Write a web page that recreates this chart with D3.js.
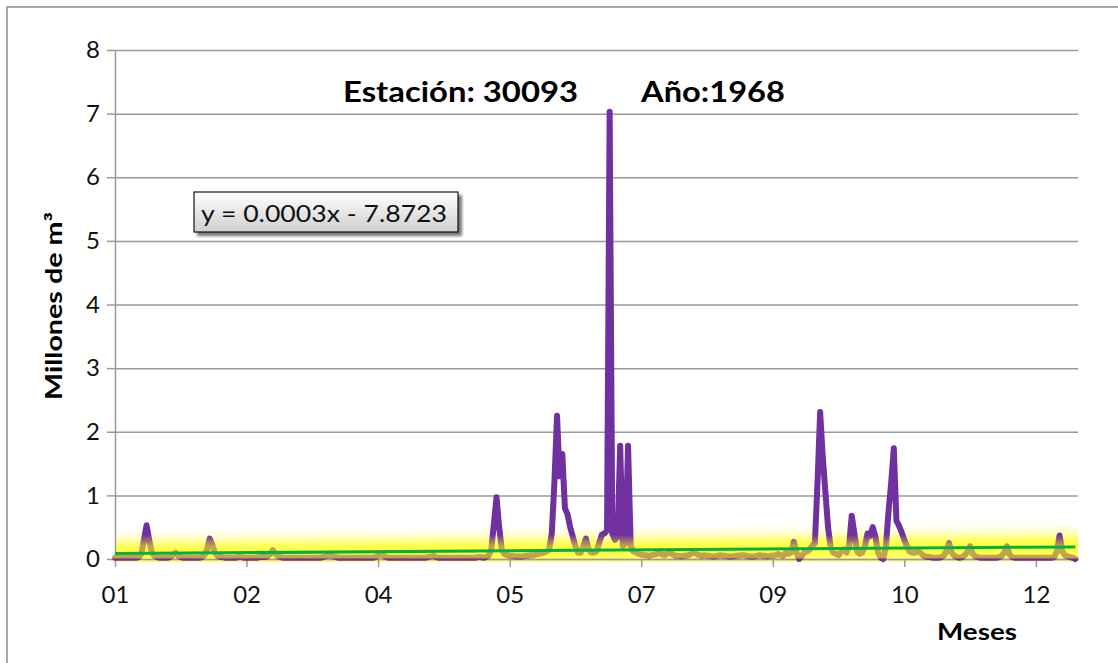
<!DOCTYPE html>
<html><head><meta charset="utf-8">
<script src="https://cdn.jsdelivr.net/npm/d3@7"></script>
<style>body{margin:0;background:#fff}svg{display:block}</style>
</head><body><svg id="c" width="1118" height="663"></svg>
<script>
const titleStation = "Estación: 30093";
const titleYear = "Año:1968";
const yTitle = "Millones de m³";
const xTitle = "Meses";
const equation = "y = 0.0003x - 7.8723";
const xTickDays = [0,50,100,150,200,250,300,350];
const xTickLabels = ["01","02","04","05","07","09","10","12"];
const yTicks = [0,1,2,3,4,5,6,7,8];
const trendDays = [0,365];
const trendValues = [0.085,0.19];
// daily volume (millions of m3), 1968-01-01 .. 1968-12-31
const flow = [
0.02,0.02,0.02,0.02,0.02,0.02,0.02,0.02,0.02,0.03,
0.08,0.3,0.53,0.3,0.1,0.05,0.03,0.02,0.02,0.02,
0.02,0.03,0.06,0.1,0.05,0.03,0.02,0.02,0.02,0.02,
0.02,0.02,0.02,0.03,0.06,0.15,0.32,0.22,0.1,0.05,
0.03,0.03,0.02,0.02,0.02,0.02,0.02,0.03,0.03,0.02,
0.02,0.02,0.02,0.02,0.02,0.03,0.03,0.03,0.04,0.08,
0.14,0.08,0.04,0.03,0.02,0.02,0.02,0.02,0.02,0.02,
0.02,0.02,0.02,0.02,0.02,0.02,0.02,0.02,0.02,0.03,
0.04,0.05,0.06,0.04,0.03,0.02,0.02,0.02,0.02,0.02,
0.02,0.02,0.02,0.02,0.02,0.02,0.02,0.02,0.02,0.03,
0.05,0.07,0.05,0.03,0.02,0.02,0.02,0.02,0.02,0.02,
0.02,0.02,0.02,0.02,0.02,0.02,0.02,0.02,0.02,0.03,
0.04,0.05,0.03,0.02,0.02,0.02,0.02,0.02,0.02,0.02,
0.02,0.02,0.02,0.02,0.02,0.02,0.02,0.02,0.03,0.03,
0.02,0.03,0.05,0.15,0.55,0.97,0.5,0.15,0.08,0.06,
0.05,0.05,0.04,0.04,0.04,0.04,0.05,0.05,0.06,0.06,
0.07,0.08,0.09,0.1,0.12,0.14,0.4,1.2,2.25,1.3,
1.65,0.8,0.7,0.5,0.35,0.2,0.1,0.1,0.2,0.32,
0.15,0.1,0.1,0.12,0.25,0.38,0.4,0.45,7.03,0.4,
0.3,0.35,1.78,0.2,0.25,1.78,0.2,0.12,0.1,0.08,
0.07,0.06,0.06,0.05,0.06,0.07,0.08,0.1,0.07,0.06,
0.09,0.1,0.07,0.05,0.05,0.04,0.05,0.05,0.06,0.08,
0.11,0.08,0.06,0.05,0.06,0.05,0.05,0.04,0.04,0.05,
0.06,0.05,0.05,0.04,0.04,0.04,0.05,0.05,0.06,0.06,
0.05,0.04,0.04,0.04,0.05,0.06,0.05,0.05,0.04,0.05,
0.05,0.06,0.08,0.06,0.05,0.1,0.08,0.1,0.27,0.1,
0.0,0.05,0.1,0.12,0.15,0.2,0.25,1.2,2.31,1.6,
1.05,0.5,0.18,0.1,0.08,0.06,0.12,0.15,0.1,0.2,
0.68,0.4,0.12,0.08,0.1,0.2,0.4,0.36,0.5,0.35,
0.1,0.02,0.0,0.2,0.75,1.2,1.74,0.6,0.52,0.42,
0.3,0.2,0.12,0.1,0.1,0.12,0.1,0.06,0.04,0.03,
0.03,0.02,0.02,0.02,0.03,0.05,0.12,0.25,0.1,0.05,
0.03,0.02,0.03,0.06,0.12,0.2,0.08,0.04,0.03,0.02,
0.02,0.02,0.02,0.02,0.02,0.02,0.03,0.05,0.1,0.2,
0.07,0.03,0.02,0.02,0.02,0.02,0.02,0.02,0.02,0.02,
0.02,0.02,0.02,0.02,0.02,0.02,0.02,0.03,0.12,0.37,
0.12,0.06,0.04,0.03,0.02,0.0
];

const svg = d3.select("#c");
const L = 115, R = 1078, T = 50, B = 559;
const x = d3.scaleLinear().domain([0,366]).range([L,R]);
const y = d3.scaleLinear().domain([0,8]).range([B,T]);
const FONT = "Lato, 'Open Sans', sans-serif";
const PURPLE = "#7030A0", TAN = "#C4A446", GRID = "#9a9a9a";

const defs = svg.append("defs");
defs.append("filter").attr("id","blur").attr("filterUnits","userSpaceOnUse")
  .attr("x",0).attr("y",0).attr("width",1118).attr("height",663)
  .append("feGaussianBlur").attr("stdDeviation",7);
defs.append("clipPath").attr("id","plotclip").append("rect")
  .attr("x",L).attr("y",T).attr("width",R-L).attr("height",B+3-T);
const g = defs.append("linearGradient").attr("id","sgrad").attr("gradientUnits","userSpaceOnUse")
  .attr("x1",0).attr("x2",0).attr("y1",y(-0.05)).attr("y2",y(0.45));
const off = v => (v+0.05)/0.5;
[[-0.05,PURPLE],[-0.005,PURPLE],[0.025,TAN],[0.2,TAN],[0.38,PURPLE],[0.45,PURPLE]]
  .forEach(([v,c]) => g.append("stop").attr("offset",off(v)).attr("stop-color",c));
const bg = defs.append("linearGradient").attr("id","boxgrad").attr("x1",0).attr("x2",0).attr("y1",0).attr("y2",1);
bg.append("stop").attr("offset",0).attr("stop-color","#ffffff");
bg.append("stop").attr("offset",1).attr("stop-color","#cfcfcf");
defs.append("filter").attr("id","shadow").append("feGaussianBlur").attr("stdDeviation",1.5);

// frame
svg.append("rect").attr("x",7).attr("y",7).attr("width",1125).attr("height",680)
  .attr("fill","#fff").attr("stroke","#8c8c8c").attr("stroke-width",1.5);

// gridlines
svg.append("g").attr("transform",`translate(${L},0)`)
  .call(d3.axisLeft(y).tickValues(yTicks).tickSize(-(R-L)).tickFormat(""))
  .call(s => { s.select(".domain").remove(); s.selectAll("line").attr("stroke",GRID).attr("stroke-width",1.5); });

// glow of trend line
const trendData = trendDays.map((d,i)=>({d, v:trendValues[i]}));
const tline = d3.line().x(p=>x(p.d)).y(p=>y(p.v));
svg.append("g").attr("clip-path","url(#plotclip)")
  .append("path").datum([{d:-20,v:trendValues[0]-0.006},...trendData,{d:390,v:trendValues[1]+0.008}])
  .attr("d",tline).attr("fill","none").attr("stroke","#ffff20").attr("stroke-width",22)
  .attr("filter","url(#blur)");

// y axis
svg.append("g").attr("transform",`translate(${L},0)`)
  .call(d3.axisLeft(y).tickValues(yTicks).tickSize(8).tickSizeOuter(0).tickPadding(7))
  .call(s => {
    s.select(".domain").attr("stroke",GRID).attr("stroke-width",1.5);
    s.selectAll("line").attr("stroke",GRID).attr("stroke-width",1.5);
    s.selectAll("text").attr("font-family",FONT).attr("font-size",24).attr("fill","#111");
  });
// x axis
svg.append("g").attr("transform",`translate(0,${B})`)
  .call(d3.axisBottom(x).tickValues(xTickDays).tickFormat((d,i)=>xTickLabels[i]).tickSize(8).tickSizeOuter(0).tickPadding(19))
  .call(s => {
    s.select(".domain").attr("stroke",GRID).attr("stroke-width",1.5);
    s.selectAll("line").attr("stroke",GRID).attr("stroke-width",1.5);
    s.selectAll("text").attr("font-family",FONT).attr("font-size",24).attr("fill","#111");
  });

// series
const sline = d3.line().x((v,i)=>x(i)).y(v=>y(v));
svg.append("path").datum(flow).attr("d",sline).attr("fill","none")
  .attr("stroke","url(#sgrad)").attr("stroke-width",6)
  .attr("stroke-linejoin","round").attr("stroke-linecap","round");

// trend line
svg.append("path").datum(trendData).attr("d",tline).attr("fill","none")
  .attr("stroke","#00B050").attr("stroke-width",3);

// titles
svg.append("text").attr("x",343).attr("y",102).text(titleStation)
  .attr("font-family",FONT).attr("font-weight","bold").attr("font-size",28)
  .attr("textLength",235).attr("lengthAdjust","spacingAndGlyphs");
svg.append("text").attr("x",641).attr("y",102).text(titleYear)
  .attr("font-family",FONT).attr("font-weight","bold").attr("font-size",28)
  .attr("textLength",144).attr("lengthAdjust","spacingAndGlyphs");
svg.append("text").attr("transform","translate(62,306) rotate(-90)").attr("text-anchor","middle")
  .text(yTitle).attr("font-family",FONT).attr("font-weight","bold").attr("font-size",22)
  .attr("textLength",188).attr("lengthAdjust","spacingAndGlyphs");
svg.append("text").attr("x",937).attr("y",640).text(xTitle)
  .attr("font-family",FONT).attr("font-weight","bold").attr("font-size",23)
  .attr("textLength",80).attr("lengthAdjust","spacingAndGlyphs");

// equation box
svg.append("rect").attr("x",197).attr("y",195).attr("width",265).attr("height",41)
  .attr("fill","#777").attr("filter","url(#shadow)");
svg.append("rect").attr("x",194).attr("y",192).attr("width",264).attr("height",40)
  .attr("fill","url(#boxgrad)").attr("stroke","#111").attr("stroke-width",1.2);
svg.append("text").attr("x",201).attr("y",222).text(equation)
  .attr("font-family",FONT).attr("font-size",24).attr("fill","#111")
  .attr("textLength",246).attr("lengthAdjust","spacingAndGlyphs");
</script></body></html>
